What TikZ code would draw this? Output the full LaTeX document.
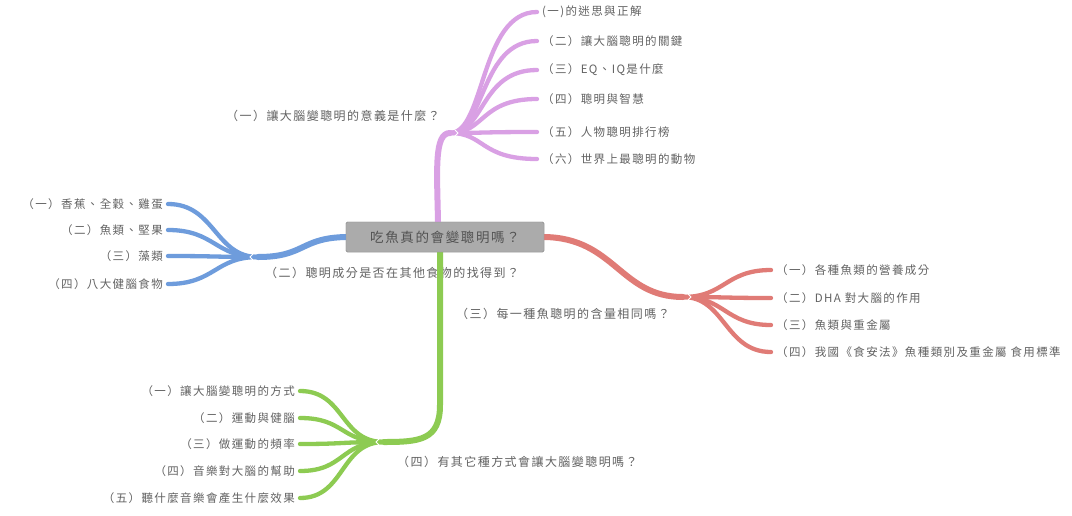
\documentclass[tikz,border=0pt]{standalone}
\usepackage{fontspec}
\newfontfamily\cjk[LetterSpace=12]{Noto Sans CJK TC}
\definecolor{purp}{HTML}{D9A0E4}
\definecolor{blu}{HTML}{6E9CDC}
\definecolor{rd}{HTML}{E07B76}
\definecolor{grn}{HTML}{8DCB52}
\definecolor{txt}{HTML}{626262}
\definecolor{boxg}{HTML}{ABABAB}
\tikzset{
  leaf/.style={font=\cjk\fontsize{11.5}{13}\selectfont, text=txt, inner xsep=5pt, inner ysep=1pt},
  lbl/.style={font=\cjk\fontsize{12}{14}\selectfont, text=txt, inner sep=1pt},
  trunk/.style={line width=6pt, line cap=round},
  twig/.style={line width=4.3pt, line cap=round},
  rootbox/.style={fill=boxg, draw=boxg!85!black, line width=0.4pt, rounded corners=1.5pt,
    minimum width=198pt, minimum height=30pt, font=\cjk\fontsize{13.5}{15}\selectfont, text=black!68},
  chev/.style={white, line width=0.8pt}
}
\begin{document}
\begin{tikzpicture}[x=1pt,y=-1pt]
\useasboundingbox[fill=white] (0,0) rectangle (1072,515);
% root
\node[rootbox] (root) at (445,237) {吃魚真的會變聰明嗎？};
% fork coordinates
\coordinate (fp) at (450,133);
\coordinate (fb) at (258,257);
\coordinate (fr) at (683,297);
\coordinate (fg) at (384,442);
% branch labels
\node[lbl, anchor=east] (lp) at (441,116) {（一）讓大腦變聰明的意義是什麼？};
\node[lbl, anchor=west] (lb) at (264,273) {（二）聰明成分是否在其他食物的找得到？};
\node[lbl, anchor=west] (lr) at (455,314) {（三）每一種魚聰明的含量相同嗎？};
\node[lbl, anchor=west] (lg) at (396,462) {（四）有其它種方式會讓大腦變聰明嗎？};
% purple leaves
\node[leaf, anchor=west] (p1) at (537,12) {(一)的迷思與正解};
\node[leaf, anchor=west] (p2) at (537,41) {（二）讓大腦聰明的關鍵};
\node[leaf, anchor=west] (p3) at (537,70) {（三）EQ、IQ是什麼};
\node[leaf, anchor=west] (p4) at (537,99) {（四）聰明與智慧};
\node[leaf, anchor=west] (p5) at (537,132) {（五）人物聰明排行榜};
\node[leaf, anchor=west] (p6) at (537,159) {（六）世界上最聰明的動物};
% blue leaves
\node[leaf, anchor=east] (b1) at (168,204) {（一）香蕉、全穀、雞蛋};
\node[leaf, anchor=east] (b2) at (168,230) {（二）魚類、堅果};
\node[leaf, anchor=east] (b3) at (168,256) {（三）藻類};
\node[leaf, anchor=east] (b4) at (168,284) {（四）八大健腦食物};
% red leaves
\node[leaf, anchor=west] (r1) at (771,270) {（一）各種魚類的營養成分};
\node[leaf, anchor=west] (r2) at (771,298) {（二）DHA 對大腦的作用};
\node[leaf, anchor=west] (r3) at (771,325) {（三）魚類與重金屬};
\node[leaf, anchor=west] (r4) at (771,352) {（四）我國《食安法》魚種類別及重金屬 食用標準};
% green leaves
\node[leaf, anchor=east] (g1) at (300,391) {（一）讓大腦變聰明的方式};
\node[leaf, anchor=east] (g2) at (300,418) {（二）運動與健腦};
\node[leaf, anchor=east] (g3) at (300,444) {（三）做運動的頻率};
\node[leaf, anchor=east] (g4) at (300,471) {（四）音樂對大腦的幫助};
\node[leaf, anchor=east] (g5) at (300,498) {（五）聽什麼音樂會產生什麼效果};
% trunks
\draw[trunk, purp] ([xshift=-7pt]root.north) .. controls (437,170) and (434,133) .. (fp);
\draw[trunk, blu] (root.west) .. controls (300,238) and (305,257) .. (fb);
\draw[trunk, rd] (root.east) .. controls (615,238) and (620,297) .. (fr);
\draw[trunk, grn] ([xshift=-5pt]root.south) -- (440,405) .. controls (440,440) and (420,442) .. (fg);
% purple twigs
\foreach \n in {p1,p2,p3,p4,p5,p6}
  \draw[twig, purp] (fp) .. controls (485,133) and (480,0 |- \n.west) .. (\n.west);
% blue twigs
\foreach \n in {b1,b2,b3,b4}
  \draw[twig, blu] (fb) .. controls (215,257) and (215,0 |- \n.east) .. (\n.east);
% red twigs
\foreach \n in {r1,r2,r3,r4}
  \draw[twig, rd] (fr) .. controls (725,297) and (725,0 |- \n.west) .. (\n.west);
% green twigs
\foreach \n in {g1,g2,g3,g4,g5}
  \draw[twig, grn] (fg) .. controls (340,442) and (345,0 |- \n.east) .. (\n.east);
% redraw root on top
\node[rootbox] at (root) {吃魚真的會變聰明嗎？};
% chevrons at forks
\draw[chev] (253,254) -- (250,257) -- (253,260);
\draw[chev] (688,294) -- (691,297) -- (688,300);
\draw[chev] (379,439) -- (376,442) -- (379,445);
\draw[chev] (455,130) -- (458,133) -- (455,136);
\end{tikzpicture}
\end{document}
